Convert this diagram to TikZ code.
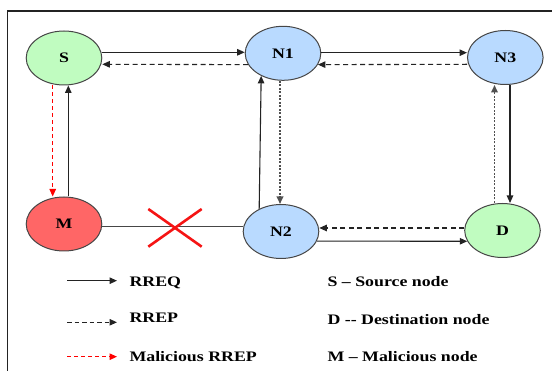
\documentclass[tikz,border=0pt]{standalone}
\usepackage{fontspec}
\setmainfont{Liberation Serif}[FakeStretch=1.23]
\usetikzlibrary{shapes.geometric,arrows.meta}
\definecolor{ngreen}{RGB}{192,252,192}
\definecolor{nblue}{RGB}{185,218,255}
\definecolor{nred}{RGB}{255,102,102}
\definecolor{edgec}{RGB}{70,70,70}
\definecolor{lnc}{RGB}{35,35,35}
\definecolor{dotc}{RGB}{80,80,80}
\definecolor{xred}{RGB}{245,20,20}
\begin{document}
\begin{tikzpicture}[x=1pt,y=-1pt,
  every node/.style={font=\bfseries\fontsize{14.5}{17}\selectfont},
  netnode/.style={ellipse,draw=edgec,line width=1pt,minimum width=75.6pt,minimum height=54pt,inner sep=0pt},
  legtext/.style={anchor=base west,inner sep=0pt},
  tip/.style={-{Triangle[length=7.5pt,width=6.5pt]}},
  req/.style={tip,draw=lnc,line width=1.1pt},
  rep/.style={tip,draw=lnc,line width=1.1pt,dash pattern=on 5pt off 3.5pt},
  repdot/.style={tip,draw=dotc,line width=1.7pt,dash pattern=on 2pt off 1.5pt},
  mal/.style={tip,draw=red,line width=1.1pt,dash pattern=on 4pt off 3pt},
  plain/.style={draw=edgec,line width=1.1pt},
]
\useasboundingbox (0,0) rectangle (552,371);
% frame
\draw[draw=lnc,line width=1.2pt] (7.3,371) -- (7.3,11) -- (552,11);

% nodes
\node[netnode,fill=ngreen] (S)  at (64,58)      {S};
\node[netnode,fill=nblue]  (N1) at (283,53.3)   {N1};
\node[netnode,fill=nblue]  (N3) at (505.3,57.5) {N3};
\node[netnode,fill=nred]   (M)  at (64,224)     {M};
\node[netnode,fill=nblue]  (N2) at (281,231.5)  {N2};
\node[netnode,fill=ngreen] (D)  at (502.5,230.5){D};

% top row
\draw[req] (S.east |- 0,52.3) -- (N1.west |- 0,52.3);
\draw[rep] (N1.198) -- (S.east |- 0,64.3);
\draw[req] (N1.east |- 0,52.7) -- (N3.west |- 0,52.7);
\draw[rep] (N3.west |- 0,64.3) -- (N1.342);

% left column
\draw[req] (M.north -| 68.3,0) -- (S.south -| 68.3,0);
\draw[mal] (S.south -| 52.7,0) -- (M.north -| 52.7,0);

% middle column
\draw[req] (N2.134) -- (N1.226);
\draw[repdot] (N1.south -| 280,0) -- (N2.north -| 280,0);

% right column
\draw[req] (N3.south -| 510,0) -- (D.north -| 510,0);
\draw[repdot] (D.north -| 494.5,0) -- (N3.south -| 494.5,0);

% bottom row
\draw[plain] (M.east |- 0,226.5) -- (N2.west |- 0,226.5);
\draw[rep] (D.west |- 0,228) -- (N2.east |- 0,228);
\draw[req] (N2.345) -- (D.197);

% broken link
\draw[xred,line width=2.6pt] (148.3,209) -- (201.7,246.7) (148.3,246.7) -- (201.7,209);

% legend
\node[legtext] (lq)  at (129.3,286.5) {RREQ};
\node[legtext] (lp)  at (129.3,322.5) {RREP};
\node[legtext] (lm)  at (129.3,361.8) {Malicious RREP};
\node[legtext] (ls)  at (327.3,286.5) {S – Source node};
\node[legtext] (ld)  at (327.3,324.3) {D -{}- Destination node};
\node[legtext] (lmm) at (327.3,361.5) {M – Malicious node};

\coordinate (q1) at (67,280.7);  \coordinate (q2) at (117,280.7);
\coordinate (p1) at (67,322.3);  \coordinate (p2) at (117,322.3);
\coordinate (m1) at (67,356.7);  \coordinate (m2) at (117,356.7);
\draw[req] (q1) -- (q2);
\draw[rep,dash pattern=on 4.5pt off 3pt] (p1) -- (p2);
\draw[mal] (m1) -- (m2);
\end{tikzpicture}
\end{document}
